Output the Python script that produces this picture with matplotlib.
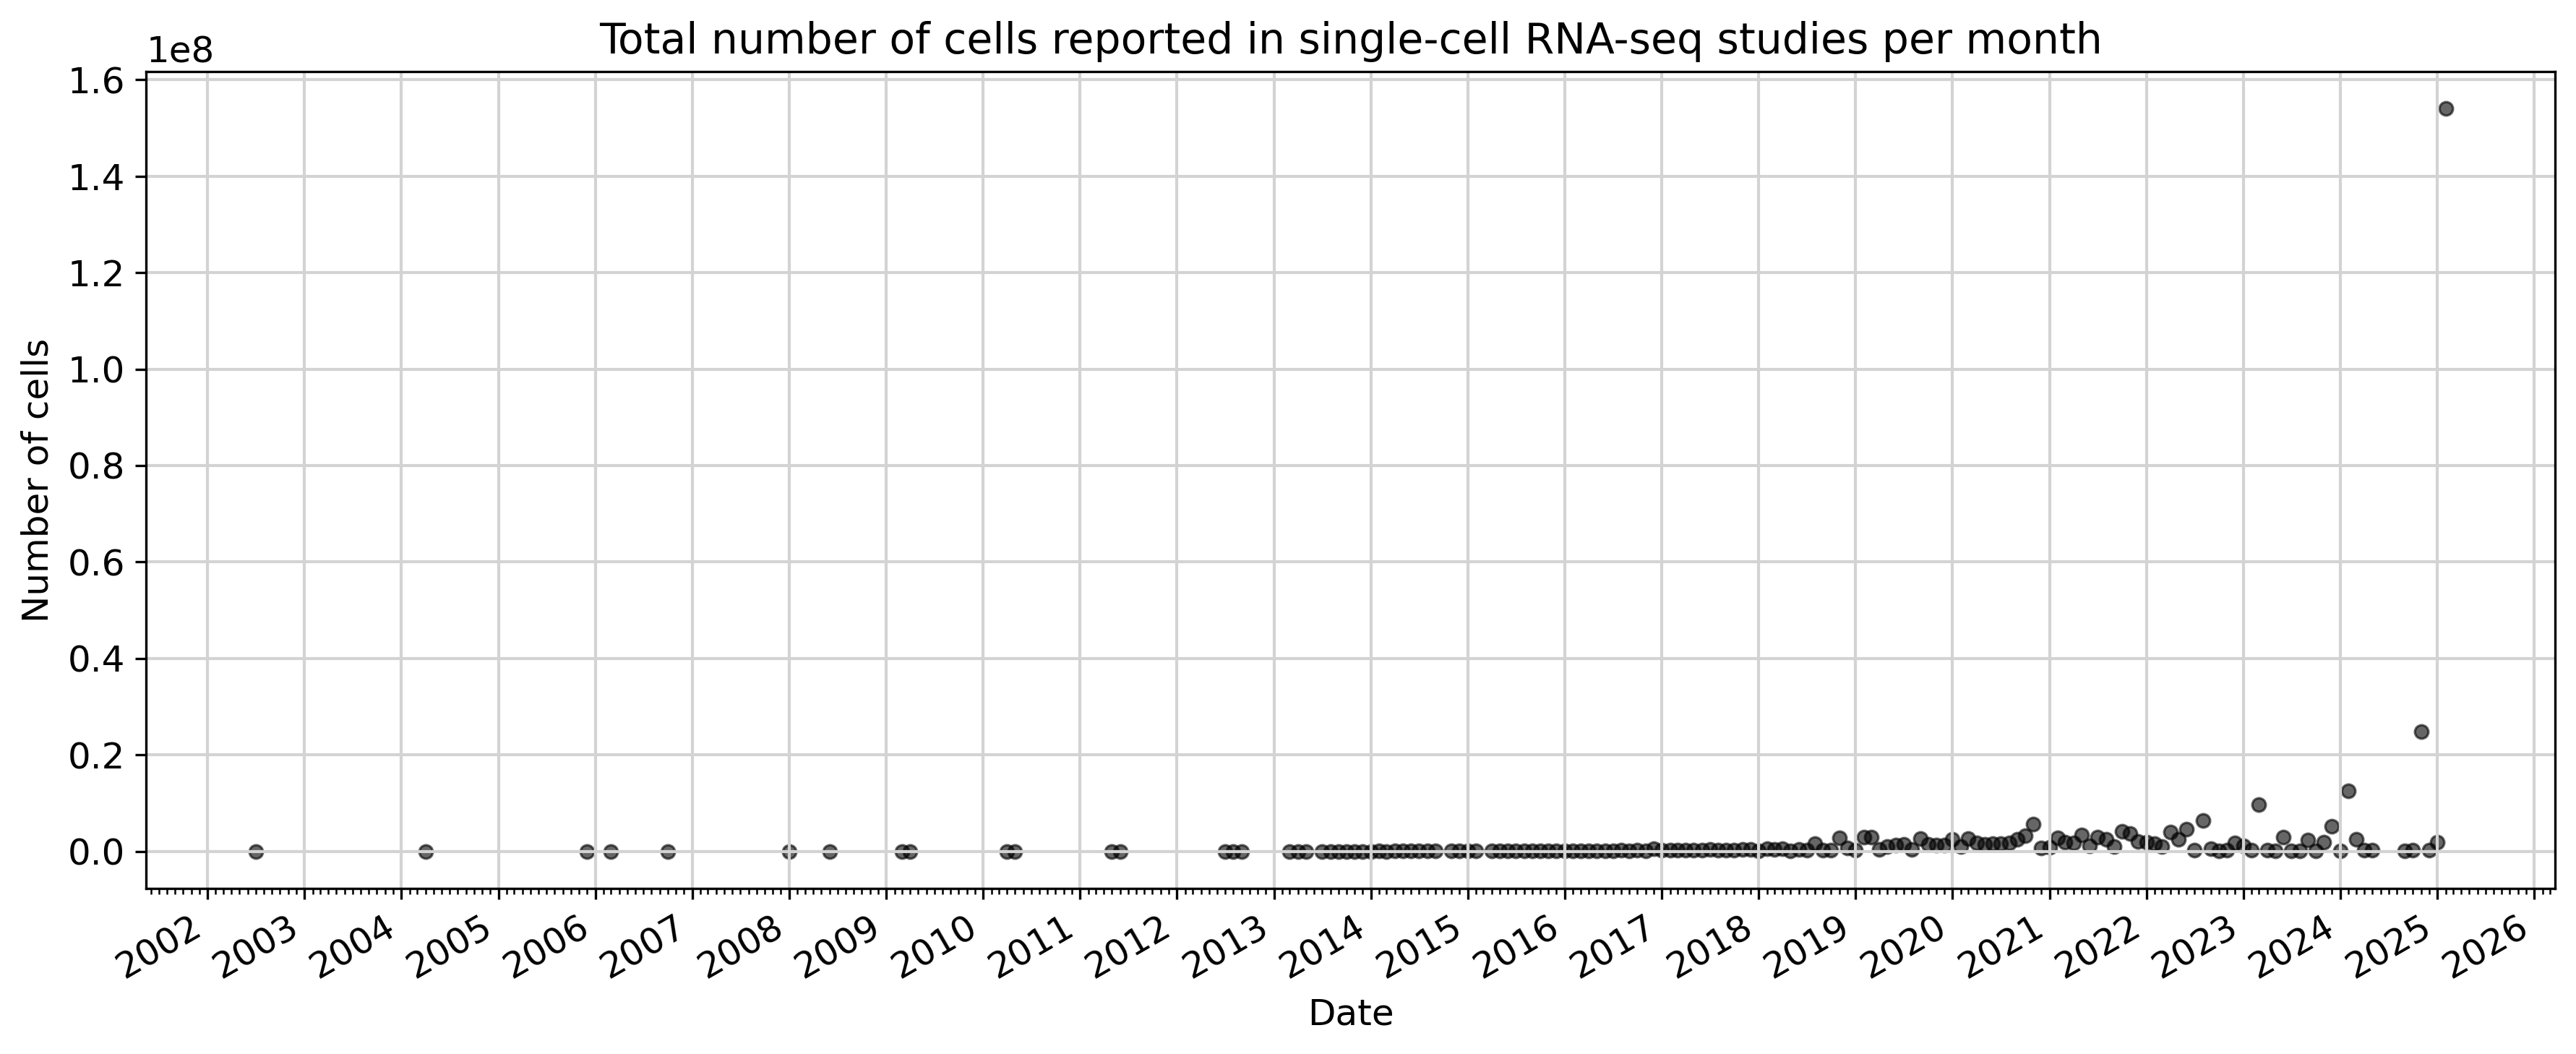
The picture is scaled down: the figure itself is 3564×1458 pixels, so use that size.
import matplotlib
matplotlib.use("Agg")
import matplotlib.pyplot as plt
import matplotlib.dates as mdates
import pandas as pd

months = [
    "2002-07", "2004-04", "2005-12", "2006-03", "2006-10", "2008-01", "2008-06",
    "2009-03", "2009-04", "2010-04", "2010-05", "2011-05", "2011-06",
    "2012-07", "2012-08", "2012-09",
    "2013-03", "2013-04", "2013-05",
    "2013-07", "2013-08", "2013-09", "2013-10", "2013-11", "2013-12",
    "2014-01", "2014-02", "2014-03", "2014-04", "2014-05", "2014-06", "2014-07", "2014-08", "2014-09",
    "2014-11", "2014-12", "2015-01", "2015-02",
    "2015-04", "2015-05", "2015-06", "2015-07", "2015-08", "2015-09", "2015-10", "2015-11", "2015-12",
    "2016-01", "2016-02", "2016-03", "2016-04", "2016-05", "2016-06",
    "2016-07", "2016-08", "2016-09", "2016-10", "2016-11", "2016-12",
    "2017-01", "2017-02", "2017-03", "2017-04", "2017-05", "2017-06",
    "2017-07", "2017-08", "2017-09", "2017-10", "2017-11", "2017-12",
    "2018-01", "2018-02", "2018-03", "2018-04", "2018-05", "2018-06",
    "2018-07", "2018-08", "2018-09", "2018-10", "2018-11", "2018-12",
    "2019-01", "2019-02", "2019-03", "2019-04", "2019-05", "2019-06",
    "2019-07", "2019-08", "2019-09", "2019-10", "2019-11", "2019-12",
    "2020-01", "2020-02", "2020-03", "2020-04", "2020-05", "2020-06",
    "2020-07", "2020-08", "2020-09", "2020-10", "2020-11", "2020-12",
    "2021-01", "2021-02", "2021-03", "2021-04", "2021-05", "2021-06",
    "2021-07", "2021-08", "2021-09", "2021-10", "2021-11", "2021-12",
    "2022-01", "2022-02", "2022-03", "2022-04", "2022-05", "2022-06",
    "2022-07", "2022-08", "2022-09", "2022-10", "2022-11", "2022-12",
    "2023-01", "2023-02", "2023-03", "2023-04", "2023-05", "2023-06",
    "2023-07", "2023-08", "2023-09", "2023-10", "2023-11", "2023-12",
    "2024-01", "2024-02", "2024-03", "2024-04", "2024-05",
    "2024-09", "2024-10", "2024-11", "2024-12",
    "2025-01", "2025-02",
]

cells = [
    100, 200, 300, 150, 400, 500, 600,
    800, 1000, 1500, 1200, 2000, 1800,
    3000, 2500, 4000,
    3000, 5000, 4000,
    6000, 8000, 5000, 9000, 12000, 7000,
    10000, 15000, 12000, 20000, 18000, 25000, 15000, 30000, 22000,
    28000, 35000, 30000, 40000,
    45000, 38000, 60000, 50000, 70000, 55000, 80000, 65000, 90000,
    75000, 110000, 95000, 130000, 100000, 150000,
    120000, 180000, 140000, 200000, 160000, 600000,
    250000, 180000, 300000, 220000, 280000, 200000,
    350000, 240000, 300000, 260000, 380000, 320000,
    100000, 600000, 450000, 600000, 100000, 450000,
    300000, 1600000, 200000, 300000, 2800000, 700000,
    200000, 2900000, 2900000, 450000, 950000, 1300000,
    1450000, 450000, 2700000, 1450000, 1300000, 1300000,
    2500000, 1000000, 2700000, 1800000, 1450000, 1550000,
    1550000, 1700000, 2450000, 3200000, 5700000, 700000,
    850000, 2850000, 1950000, 1800000, 3450000, 1200000,
    2950000, 2450000, 950000, 4100000, 3700000, 2100000,
    1950000, 1550000, 1050000, 4050000, 2450000, 4550000,
    300000, 6450000, 600000, 100000, 200000, 1700000,
    1100000, 300000, 9700000, 200000, 20000, 2950000,
    100000, 20000, 2350000, 20000, 1950000, 5200000,
    20000, 12600000, 2550000, 300000, 200000,
    20000, 200000, 24850000, 300000,
    1850000, 154000000,
]

title_text = "Total number of cells reported in single-cell RNA-seq studies per month"
x_label = "Date"
y_label = "Number of cells"

dates = pd.to_datetime(months, format="%Y-%m")

plt.rcParams["font.size"] = 12

fig, ax = plt.subplots(figsize=(11.88, 4.86), dpi=300)
ax.scatter(dates, cells, s=20, color="black", alpha=0.6, linewidths=0.8)

ax.set_title(title_text, fontsize=14)
ax.set_xlabel(x_label)
ax.set_ylabel(y_label)

ax.xaxis.set_major_locator(mdates.YearLocator())
ax.xaxis.set_major_formatter(mdates.DateFormatter("%Y"))
ax.xaxis.set_minor_locator(mdates.MonthLocator())
ax.grid(True, which="major", color="#d3d3d3", linewidth=1.0)

fig.autofmt_xdate()
fig.subplots_adjust(left=0.0567, right=0.9919, bottom=0.1571, top=0.9321)

fig.savefig("out.png", dpi=300)
